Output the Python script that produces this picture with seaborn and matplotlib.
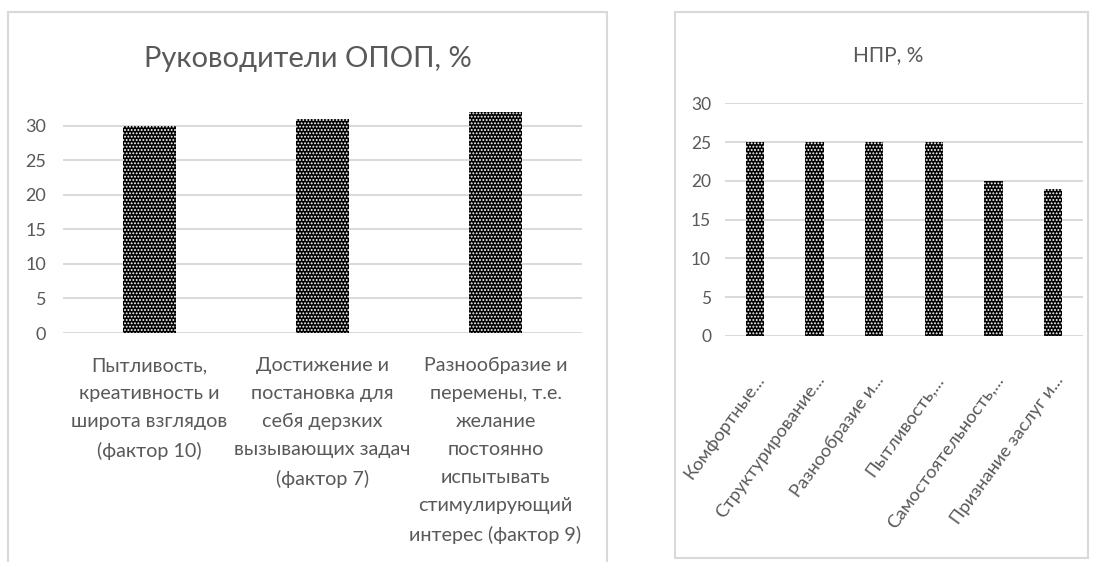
import matplotlib
matplotlib.use("Agg")
import matplotlib.pyplot as plt
from matplotlib.patches import Rectangle
import seaborn as sns

# Data
left_title = "Руководители ОПОП, %"
left_categories = [
    "Пытливость,\nкреативность и\nширота взглядов\n(фактор 10)",
    "Достижение и\nпостановка для\nсебя дерзких\nвызывающих задач\n(фактор 7)",
    "Разнообразие и\nперемены, т.е.\nжелание\nпостоянно\nиспытывать\nстимулирующий\nинтерес (фактор 9)",
]
left_values = [30, 31, 32]

right_title = "НПР, %"
right_categories = [
    "Комфортные...",
    "Структурирование...",
    "Разнообразие и...",
    "Пытливость,...",
    "Самостоятельность,...",
    "Признание заслуг и...",
]
right_values = [25, 25, 25, 25, 20, 19]

yticks = [0, 5, 10, 15, 20, 25, 30]

sns.set_theme(style="white")
plt.rcParams["font.family"] = ["Lato", "DejaVu Sans"]
plt.rcParams["hatch.linewidth"] = 0.9

TEXT = "#595959"
GRID = "#d9d9d9"
W, H = 1093, 562

fig = plt.figure(figsize=(W / 100, H / 100), dpi=100)


def px_rect(x0, y0, x1, y1):
    """Figure-fraction rectangle from pixel bounds (y measured from top)."""
    return [x0 / W, 1 - y1 / H, (x1 - x0) / W, (y1 - y0) / H]


# Panel frames
for (x0, y0, x1, y1) in [(8, 12, 607, 575), (675, 12, 1088, 558)]:
    fig.add_artist(Rectangle((x0 / W, 1 - y1 / H), (x1 - x0) / W, (y1 - y0) / H,
                             transform=fig.transFigure, fill=False,
                             edgecolor=GRID, linewidth=1.5))


def style_axis(ax, ymax, tick_size, pad):
    ax.set_ylim(0, ymax)
    ax.set_yticks(yticks)
    ax.yaxis.grid(True, color=GRID, linewidth=1.4)
    ax.xaxis.grid(False)
    ax.set_axisbelow(True)
    for s in ax.spines.values():
        s.set_visible(False)
    ax.tick_params(axis="y", length=0, pad=pad, labelsize=tick_size, labelcolor=TEXT)
    ax.set_xlabel("")
    ax.set_ylabel("")


# Left chart
ax1 = fig.add_axes(px_rect(63, 333 - 33 * 6.91, 582, 333))
sns.barplot(x=left_categories, y=left_values, color="black", saturation=1,
            width=0.31, edgecolor="white", linewidth=0, hatch=".....", ax=ax1)
style_axis(ax1, 33, 13, 12)
ax1.tick_params(axis="x", length=0, pad=17.5, labelcolor=TEXT)
for lbl in ax1.get_xticklabels():
    lbl.set_fontsize(14.2)
    lbl.set_linespacing(1.78)
    lbl.set_verticalalignment("top")
for b in ax1.patches:
    b.set_clip_on(False)

# Right chart
ax2 = fig.add_axes(px_rect(725, 336 - 30 * 7.757, 1083, 336))
sns.barplot(x=right_categories, y=right_values, color="black", saturation=1,
            width=0.31, edgecolor="white", linewidth=0, hatch=".....", ax=ax2)
style_axis(ax2, 30, 12.5, 10)
ax2.tick_params(axis="x", length=0, pad=26, labelsize=13.2, labelcolor=TEXT)
for lbl in ax2.get_xticklabels():
    lbl.set_rotation(54)
    lbl.set_horizontalalignment("right")
    lbl.set_rotation_mode("anchor")

# Titles
fig.text(308 / W, 1 - 59 / H, left_title, ha="center", va="center",
         fontsize=21, color=TEXT)
fig.text(888 / W, 1 - 55 / H, right_title, ha="center", va="center",
         fontsize=15, color=TEXT)

fig.savefig("out.png", dpi=100)
